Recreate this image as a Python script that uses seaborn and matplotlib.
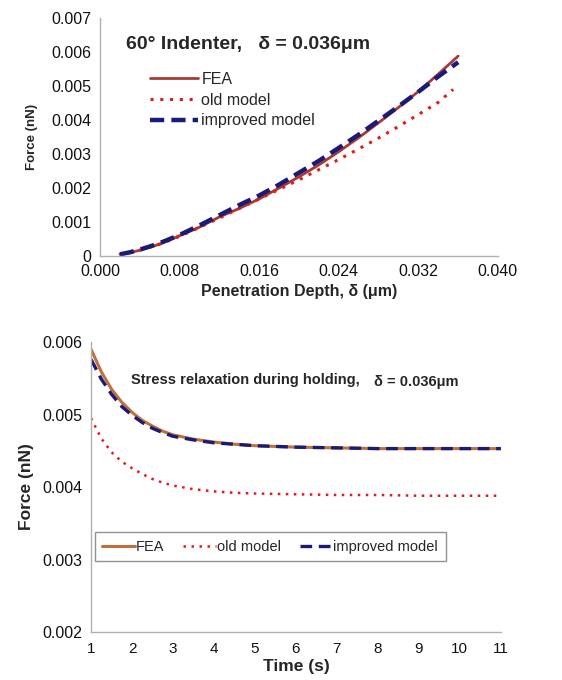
import numpy as np
import pandas as pd
import matplotlib
matplotlib.use("Agg")
import matplotlib.pyplot as plt
import seaborn as sns

# Loading curve: penetration depth (um) vs force (nN)
depth = [0.002, 0.003, 0.004, 0.005, 0.006, 0.007, 0.008, 0.010, 0.012,
         0.014, 0.016, 0.018, 0.020, 0.022, 0.024, 0.026, 0.028, 0.030,
         0.032, 0.034, 0.036]
fea_load = [0.00005, 0.00010, 0.00017, 0.00026, 0.00035, 0.00047, 0.00060,
            0.00085, 0.00115, 0.00140, 0.00168, 0.00200, 0.00233, 0.00268,
            0.00307, 0.00348, 0.00392, 0.00437, 0.00484, 0.00535, 0.00588]
improved_load = [0.00005, 0.00011, 0.00019, 0.00028, 0.00038, 0.00050,
                 0.00062, 0.00090, 0.00120, 0.00150, 0.00178, 0.00210,
                 0.00245, 0.00280, 0.00318, 0.00357, 0.00398, 0.00440,
                 0.00483, 0.00528, 0.00570]
old_depth = [0.002, 0.003, 0.004, 0.005, 0.006, 0.007, 0.008, 0.010, 0.012,
             0.014, 0.016, 0.018, 0.020, 0.022, 0.024, 0.026, 0.028, 0.030,
             0.032, 0.034, 0.0355]
old_load = [0.00005, 0.00010, 0.00017, 0.00026, 0.00035, 0.00046, 0.00058,
            0.00084, 0.00112, 0.00140, 0.00168, 0.00196, 0.00224, 0.00254,
            0.00284, 0.00315, 0.00347, 0.00381, 0.00416, 0.00452, 0.00490]

# Holding stage: time (s) vs force (nN)
time = [1, 1.25, 1.5, 1.75, 2, 2.25, 2.5, 2.75, 3, 3.5, 4, 4.5, 5, 6, 7, 8,
        9, 10, 11]
fea_hold = [0.00590, 0.00559, 0.00535, 0.00517, 0.00503, 0.00492, 0.00484,
            0.00477, 0.00472, 0.00466, 0.00462, 0.00459, 0.00457, 0.00455,
            0.00454, 0.00453, 0.00453, 0.00453, 0.00453]
improved_hold = [0.00576, 0.00549, 0.00528, 0.00511, 0.00499, 0.00489,
                 0.00481, 0.00475, 0.00470, 0.00465, 0.00461, 0.00459,
                 0.00457, 0.00455, 0.00454, 0.00453, 0.00453, 0.00453,
                 0.00453]
old_time = [1, 1.25, 1.5, 1.75, 2, 2.25, 2.5, 2.75, 3, 3.5, 4, 4.5, 5, 6, 7,
            8, 9, 10, 10.9]
old_hold = [0.00495, 0.00467, 0.00448, 0.00435, 0.00426, 0.00418, 0.00411,
            0.00406, 0.00402, 0.00397, 0.00394, 0.00392, 0.00391, 0.00390,
            0.00389, 0.00389, 0.00388, 0.00388, 0.00388]

sns.set_style("white")
plt.rcParams["font.family"] = ["Liberation Sans", "DejaVu Sans"]

fig = plt.figure(figsize=(5.62, 6.8), dpi=100)
ax1 = fig.add_axes([0.178, 0.6235, 0.708, 0.35])
ax2 = fig.add_axes([0.162, 0.0706, 0.729, 0.4264])

spine_c = "#b0b0b0"
for ax in (ax1, ax2):
    for s in ("top", "right"):
        ax.spines[s].set_visible(False)
    for s in ("left", "bottom"):
        ax.spines[s].set_color(spine_c)
        ax.spines[s].set_linewidth(1.0)
    ax.tick_params(axis="both", direction="out", length=4, width=1,
                   color=spine_c, labelsize=11.5, labelcolor="#111111",
                   pad=2)

# ---- loading curve ----
sns.lineplot(x=depth, y=fea_load, ax=ax1, color="#a83a34", linewidth=2.0,
             label="FEA")
sns.lineplot(x=old_depth, y=old_load, ax=ax1, color="#e01b1b", linewidth=2.2,
             label="old model", linestyle=(0, (1, 2.2)))
sns.lineplot(x=depth, y=improved_load, ax=ax1, color="#1a1a78", linewidth=3.2,
             label="improved model", linestyle=(0, (3.2, 1.6)))
ax1.set_xlim(0, 0.040)
ax1.set_ylim(0, 0.007)
ax1.set_xticks(np.arange(0, 0.0401, 0.008))
ax1.set_xticklabels([f"{v:.3f}" for v in np.arange(0, 0.0401, 0.008)])
yt = np.arange(0, 0.00701, 0.001)
ax1.set_yticks(yt)
ax1.set_yticklabels(["0"] + [f"{v:.3f}" for v in yt[1:]])
ax1.set_xlabel("Penetration Depth, δ (μm)", fontsize=11.5, fontweight="bold",
               labelpad=3)
ax1.set_ylabel("Force (nN)", fontsize=9.5, fontweight="bold", labelpad=10)
ax1.text(0.065, 0.89, "60° Indenter,   δ = 0.036μm", transform=ax1.transAxes,
         fontsize=14, fontweight="bold", va="center")
ax1.legend(loc="upper left", bbox_to_anchor=(0.11, 0.8), frameon=False,
           fontsize=11.5, handlelength=3.0, handletextpad=0.2,
           labelspacing=0.35, borderaxespad=0)

# ---- holding stage ----
sns.lineplot(x=time, y=fea_hold, ax=ax2, color="#c0703a", linewidth=2.2,
             label="FEA")
sns.lineplot(x=old_time, y=old_hold, ax=ax2, color="#e01b1b", linewidth=1.8,
             label="old model", linestyle=(0, (1, 2.2)))
sns.lineplot(x=time, y=improved_hold, ax=ax2, color="#1a1a78", linewidth=2.4,
             label="improved model", linestyle=(0, (3.5, 2)))
ax2.set_xlim(1, 11)
ax2.set_ylim(0.002, 0.006)
ax2.set_xticks(range(1, 12))
ax2.set_yticks(np.arange(0.002, 0.00601, 0.001))
ax2.set_yticklabels([f"{v:.3f}" for v in np.arange(0.002, 0.00601, 0.001)])
ax2.tick_params(axis="x", pad=3, labelsize=11)
ax2.set_xlabel("Time (s)", fontsize=12.5, fontweight="bold", labelpad=2.5)
ax2.set_ylabel("Force (nN)", fontsize=12.5, fontweight="bold", labelpad=6)
ax2.text(0.098, 0.869, "Stress relaxation during holding,",
         transform=ax2.transAxes, fontsize=10.5, fontweight="bold",
         va="center")
ax2.text(0.69, 0.862, "δ = 0.036μm", transform=ax2.transAxes, fontsize=10.5,
         fontweight="bold", va="center")
leg = ax2.legend(loc="lower left", bbox_to_anchor=(0.01, 0.245), ncol=3,
                 frameon=True, fancybox=False, fontsize=10.5,
                 handlelength=2.2, handletextpad=0.1, columnspacing=1.3,
                 borderpad=0.5, borderaxespad=0)
leg.get_frame().set_edgecolor("#777777")
leg.get_frame().set_linewidth(1.0)

fig.savefig("out.png", dpi=100, facecolor="white")
